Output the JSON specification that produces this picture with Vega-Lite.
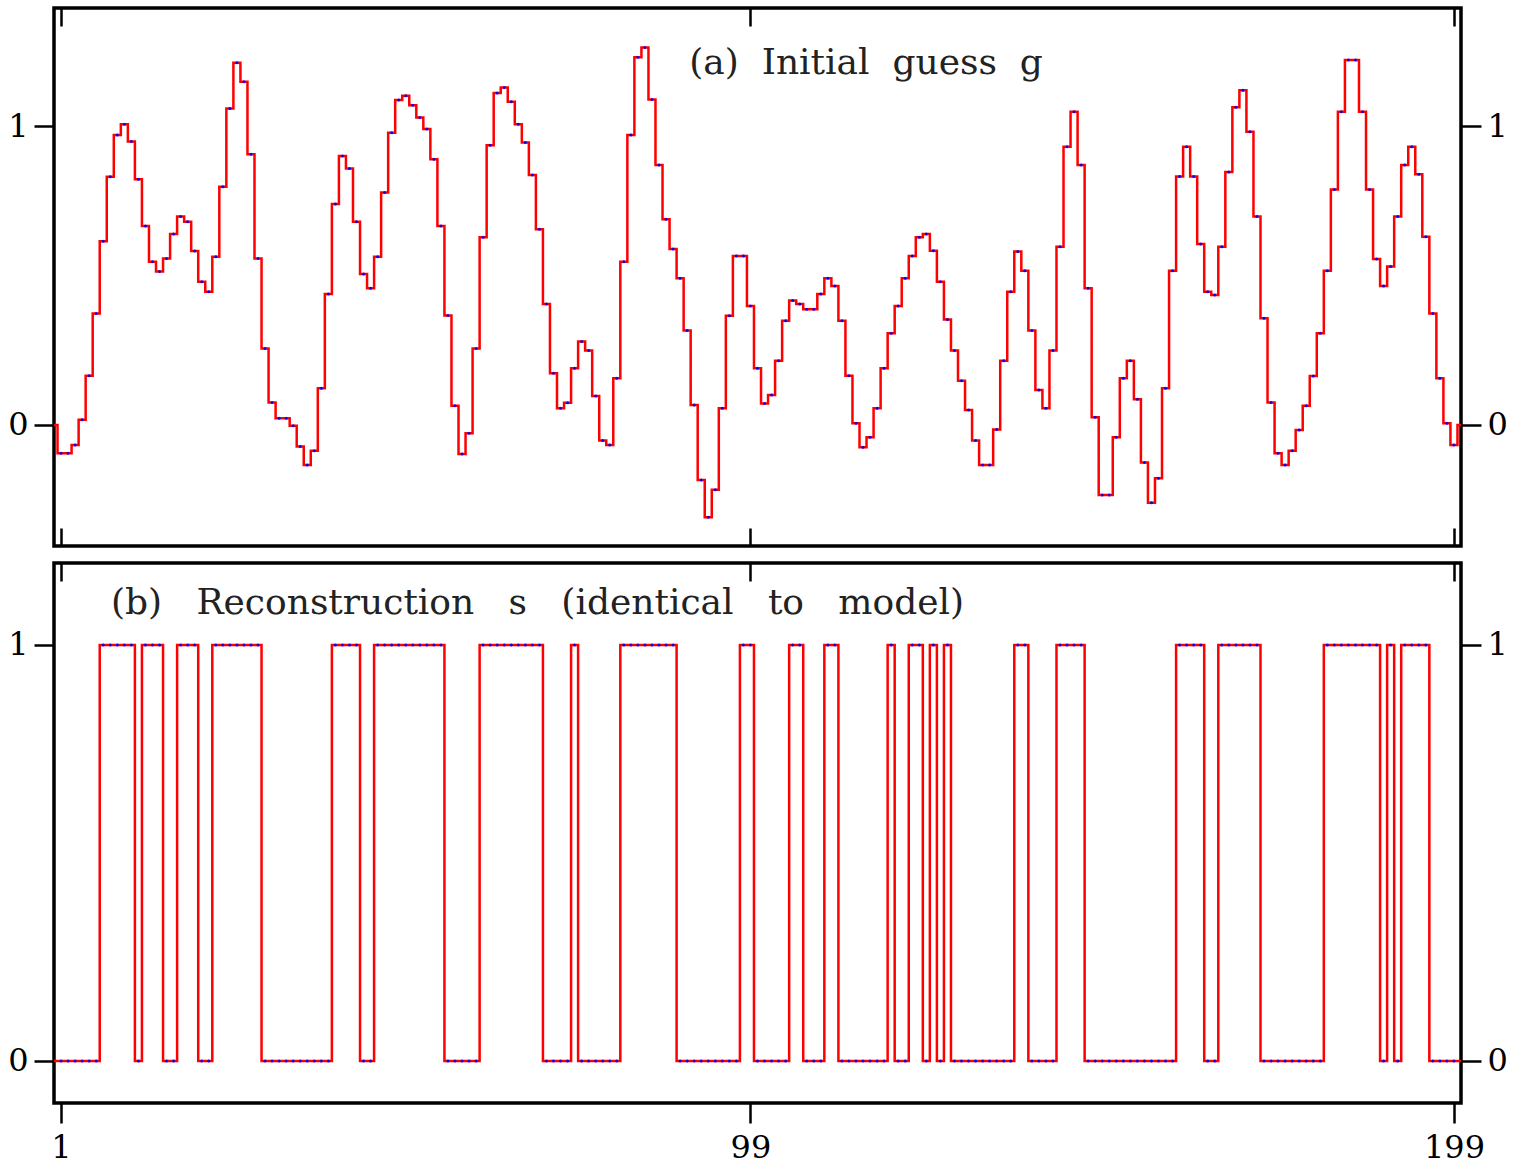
{
 "$schema": "https://vega.github.io/schema/vega-lite/v6.json",
 "background": "white",
 "padding": {"left": 5, "top": 5, "right": 5, "bottom": 0},
 "config": {
  "view": {"stroke": "#000", "strokeWidth": 3.5},
  "axis": {"grid": false, "domain": false, "tickColor": "#000", "tickWidth": 2.5, "labelFont": "DejaVu Serif", "labelFontSize": 32, "labelColor": "#000", "title": null},
  "concat": {"spacing": 11}
 },
 "datasets": {
  "d": [
   {"n":0,"g":0,"s":0},{"n":1,"g":-0.095,"s":0},{"n":2,"g":-0.095,"s":0},{"n":3,"g":-0.067,"s":0},{"n":4,"g":0.017,"s":0},
   {"n":5,"g":0.165,"s":0},{"n":6,"g":0.373,"s":0},{"n":7,"g":0.615,"s":1},{"n":8,"g":0.83,"s":1},{"n":9,"g":0.97,"s":1},
   {"n":10,"g":1.006,"s":1},{"n":11,"g":0.948,"s":1},{"n":12,"g":0.822,"s":0},{"n":13,"g":0.666,"s":1},{"n":14,"g":0.546,"s":1},
   {"n":15,"g":0.513,"s":1},{"n":16,"g":0.557,"s":0},{"n":17,"g":0.639,"s":0},{"n":18,"g":0.697,"s":1},{"n":19,"g":0.68,"s":1},
   {"n":20,"g":0.582,"s":1},{"n":21,"g":0.479,"s":0},{"n":22,"g":0.446,"s":0},{"n":23,"g":0.563,"s":1},{"n":24,"g":0.797,"s":1},
   {"n":25,"g":1.059,"s":1},{"n":26,"g":1.212,"s":1},{"n":27,"g":1.148,"s":1},{"n":28,"g":0.906,"s":1},{"n":29,"g":0.557,"s":1},
   {"n":30,"g":0.256,"s":0},{"n":31,"g":0.075,"s":0},{"n":32,"g":0.022,"s":0},{"n":33,"g":0.022,"s":0},{"n":34,"g":-0.003,"s":0},
   {"n":35,"g":-0.072,"s":0},{"n":36,"g":-0.134,"s":0},{"n":37,"g":-0.086,"s":0},{"n":38,"g":0.123,"s":0},{"n":39,"g":0.438,"s":0},
   {"n":40,"g":0.739,"s":1},{"n":41,"g":0.9,"s":1},{"n":42,"g":0.858,"s":1},{"n":43,"g":0.68,"s":1},{"n":44,"g":0.505,"s":0},
   {"n":45,"g":0.457,"s":0},{"n":46,"g":0.563,"s":1},{"n":47,"g":0.778,"s":1},{"n":48,"g":0.978,"s":1},{"n":49,"g":1.087,"s":1},
   {"n":50,"g":1.101,"s":1},{"n":51,"g":1.07,"s":1},{"n":52,"g":1.029,"s":1},{"n":53,"g":0.99,"s":1},{"n":54,"g":0.889,"s":1},
   {"n":55,"g":0.666,"s":1},{"n":56,"g":0.366,"s":0},{"n":57,"g":0.064,"s":0},{"n":58,"g":-0.097,"s":0},{"n":59,"g":-0.028,"s":0},
   {"n":60,"g":0.256,"s":0},{"n":61,"g":0.628,"s":1},{"n":62,"g":0.936,"s":1},{"n":63,"g":1.111,"s":1},{"n":64,"g":1.129,"s":1},
   {"n":65,"g":1.081,"s":1},{"n":66,"g":1.006,"s":1},{"n":67,"g":0.945,"s":1},{"n":68,"g":0.836,"s":1},{"n":69,"g":0.655,"s":1},
   {"n":70,"g":0.405,"s":0},{"n":71,"g":0.173,"s":0},{"n":72,"g":0.056,"s":0},{"n":73,"g":0.074,"s":0},{"n":74,"g":0.19,"s":1},
   {"n":75,"g":0.279,"s":0},{"n":76,"g":0.249,"s":0},{"n":77,"g":0.097,"s":0},{"n":78,"g":-0.052,"s":0},{"n":79,"g":-0.067,"s":0},
   {"n":80,"g":0.156,"s":0},{"n":81,"g":0.546,"s":1},{"n":82,"g":0.97,"s":1},{"n":83,"g":1.23,"s":1},{"n":84,"g":1.263,"s":1},
   {"n":85,"g":1.089,"s":1},{"n":86,"g":0.87,"s":1},{"n":87,"g":0.688,"s":1},{"n":88,"g":0.589,"s":1},{"n":89,"g":0.491,"s":0},
   {"n":90,"g":0.316,"s":0},{"n":91,"g":0.067,"s":0},{"n":92,"g":-0.184,"s":0},{"n":93,"g":-0.309,"s":0},{"n":94,"g":-0.217,"s":0},
   {"n":95,"g":0.056,"s":0},{"n":96,"g":0.365,"s":0},{"n":97,"g":0.565,"s":0},{"n":98,"g":0.565,"s":1},{"n":99,"g":0.398,"s":1},
   {"n":100,"g":0.19,"s":0},{"n":101,"g":0.072,"s":0},{"n":102,"g":0.1,"s":0},{"n":103,"g":0.215,"s":0},{"n":104,"g":0.349,"s":0},
   {"n":105,"g":0.416,"s":1},{"n":106,"g":0.405,"s":1},{"n":107,"g":0.387,"s":0},{"n":108,"g":0.387,"s":0},{"n":109,"g":0.438,"s":0},
   {"n":110,"g":0.491,"s":1},{"n":111,"g":0.465,"s":1},{"n":112,"g":0.349,"s":0},{"n":113,"g":0.165,"s":0},{"n":114,"g":0.006,"s":0},
   {"n":115,"g":-0.075,"s":0},{"n":116,"g":-0.041,"s":0},{"n":117,"g":0.056,"s":0},{"n":118,"g":0.19,"s":0},{"n":119,"g":0.307,"s":1},
   {"n":120,"g":0.398,"s":0},{"n":121,"g":0.491,"s":0},{"n":122,"g":0.565,"s":1},{"n":123,"g":0.628,"s":1},{"n":124,"g":0.639,"s":0},
   {"n":125,"g":0.583,"s":1},{"n":126,"g":0.479,"s":0},{"n":127,"g":0.353,"s":1},{"n":128,"g":0.249,"s":0},{"n":129,"g":0.148,"s":0},
   {"n":130,"g":0.05,"s":0},{"n":131,"g":-0.052,"s":0},{"n":132,"g":-0.134,"s":0},{"n":133,"g":-0.134,"s":0},{"n":134,"g":-0.015,"s":0},
   {"n":135,"g":0.215,"s":0},{"n":136,"g":0.446,"s":0},{"n":137,"g":0.58,"s":1},{"n":138,"g":0.516,"s":1},{"n":139,"g":0.316,"s":0},
   {"n":140,"g":0.117,"s":0},{"n":141,"g":0.056,"s":0},{"n":142,"g":0.249,"s":0},{"n":143,"g":0.596,"s":1},{"n":144,"g":0.931,"s":1},
   {"n":145,"g":1.048,"s":1},{"n":146,"g":0.87,"s":1},{"n":147,"g":0.457,"s":0},{"n":148,"g":0.026,"s":0},{"n":149,"g":-0.234,"s":0},
   {"n":150,"g":-0.234,"s":0},{"n":151,"g":-0.041,"s":0},{"n":152,"g":0.156,"s":0},{"n":153,"g":0.215,"s":0},{"n":154,"g":0.086,"s":0},
   {"n":155,"g":-0.126,"s":0},{"n":156,"g":-0.26,"s":0},{"n":157,"g":-0.178,"s":0},{"n":158,"g":0.123,"s":0},{"n":159,"g":0.516,"s":0},
   {"n":160,"g":0.831,"s":1},{"n":161,"g":0.931,"s":1},{"n":162,"g":0.831,"s":1},{"n":163,"g":0.605,"s":1},{"n":164,"g":0.446,"s":0},
   {"n":165,"g":0.435,"s":0},{"n":166,"g":0.596,"s":1},{"n":167,"g":0.846,"s":1},{"n":168,"g":1.063,"s":1},{"n":169,"g":1.12,"s":1},
   {"n":170,"g":0.981,"s":1},{"n":171,"g":0.697,"s":1},{"n":172,"g":0.357,"s":0},{"n":173,"g":0.075,"s":0},{"n":174,"g":-0.095,"s":0},
   {"n":175,"g":-0.134,"s":0},{"n":176,"g":-0.086,"s":0},{"n":177,"g":-0.017,"s":0},{"n":178,"g":0.064,"s":0},{"n":179,"g":0.164,"s":0},
   {"n":180,"g":0.307,"s":0},{"n":181,"g":0.516,"s":1},{"n":182,"g":0.788,"s":1},{"n":183,"g":1.048,"s":1},{"n":184,"g":1.221,"s":1},
   {"n":185,"g":1.221,"s":1},{"n":186,"g":1.048,"s":1},{"n":187,"g":0.788,"s":1},{"n":188,"g":0.555,"s":1},{"n":189,"g":0.465,"s":0},
   {"n":190,"g":0.53,"s":1},{"n":191,"g":0.697,"s":0},{"n":192,"g":0.87,"s":1},{"n":193,"g":0.931,"s":1},{"n":194,"g":0.839,"s":1},
   {"n":195,"g":0.63,"s":1},{"n":196,"g":0.373,"s":0},{"n":197,"g":0.156,"s":0},{"n":198,"g":0.006,"s":0},{"n":199,"g":-0.067,"s":0},
   {"n":200,"g":0,"s":0}
  ]
 },
 "vconcat": [
  {
   "width": 1407,
   "height": 538,
   "resolve": {"axis": {"x": "independent", "y": "independent"}},
   "layer": [
    {
     "data": {"name": "d"},
     "mark": {"type": "line", "interpolate": "step", "color": "#ff0000", "strokeWidth": 2.5},
     "encoding": {
      "x": {"field": "n", "type": "quantitative", "scale": {"domain": [0, 200], "nice": false, "zero": false},
            "axis": {"orient": "bottom", "values": [1, 99, 199], "labels": false, "tickSize": -18}},
      "y": {"field": "g", "type": "quantitative", "scale": {"domain": [-0.405, 1.395], "nice": false, "zero": false},
            "axis": {"orient": "left", "values": [0, 1], "tickSize": 20, "labelPadding": 6, "format": "d"}}
     }
    },
    {
     "data": {"name": "d"},
     "transform": [{"filter": "datum.n >= 1 && datum.n <= 199"}],
     "mark": {"type": "point", "filled": true, "color": "#0000ff", "size": 9, "opacity": 0.9},
     "encoding": {
      "x": {"field": "n", "type": "quantitative", "axis": {"orient": "top", "values": [1, 99, 199], "labels": false, "tickSize": -18}},
      "y": {"field": "g", "type": "quantitative", "axis": {"orient": "right", "values": [0, 1], "tickSize": 20, "labelPadding": 6, "format": "d"}}
     }
    },
    {
     "data": {"values": [{"label": "(a)\u00a0 Initial\u00a0 guess\u00a0 g"}]},
     "mark": {"type": "text", "font": "DejaVu Serif", "fontSize": 36, "align": "left", "baseline": "middle", "color": "#222"},
     "encoding": {
      "text": {"field": "label"},
      "x": {"datum": 90.3, "type": "quantitative", "axis": null},
      "y": {"datum": 1.21, "type": "quantitative", "axis": null}
     }
    }
   ]
  },
  {
   "width": 1407,
   "height": 540,
   "resolve": {"axis": {"x": "independent", "y": "independent"}},
   "layer": [
    {
     "data": {"name": "d"},
     "mark": {"type": "line", "interpolate": "step", "color": "#ff0000", "strokeWidth": 2.5},
     "encoding": {
      "x": {"field": "n", "type": "quantitative", "scale": {"domain": [0, 200], "nice": false, "zero": false},
            "axis": {"orient": "bottom", "values": [1, 99, 199], "tickSize": 20, "labelPadding": 9, "format": "d"}},
      "y": {"field": "s", "type": "quantitative", "scale": {"domain": [-0.101, 1.197], "nice": false, "zero": false},
            "axis": {"orient": "left", "values": [0, 1], "tickSize": 20, "labelPadding": 6, "format": "d"}}
     }
    },
    {
     "data": {"name": "d"},
     "transform": [{"filter": "datum.n >= 1 && datum.n <= 199"}],
     "mark": {"type": "point", "filled": true, "color": "#0000ff", "size": 9, "opacity": 0.9},
     "encoding": {
      "x": {"field": "n", "type": "quantitative", "axis": {"orient": "top", "values": [1, 99, 199], "labels": false, "tickSize": -18}},
      "y": {"field": "s", "type": "quantitative", "axis": {"orient": "right", "values": [0, 1], "tickSize": 20, "labelPadding": 6, "format": "d"}}
     }
    },
    {
     "data": {"values": [{"label": "(b)\u00a0\u00a0 Reconstruction\u00a0\u00a0 s\u00a0\u00a0 (identical\u00a0\u00a0 to\u00a0\u00a0 model)"}]},
     "mark": {"type": "text", "font": "DejaVu Serif", "fontSize": 36, "align": "left", "baseline": "middle", "color": "#222"},
     "encoding": {
      "text": {"field": "label"},
      "x": {"datum": 8.1, "type": "quantitative", "axis": null},
      "y": {"datum": 1.101, "type": "quantitative", "axis": null}
     }
    }
   ]
  }
 ]
}
